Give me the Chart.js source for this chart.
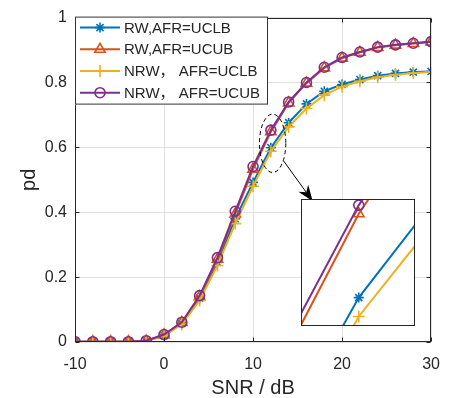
<!DOCTYPE html>
<html>
<head>
<meta charset="utf-8">
<script src="https://cdn.jsdelivr.net/npm/chart.js@4/dist/chart.umd.min.js"></script>
<style>
  html, body { margin: 0; padding: 0; background: #fff; }
  #wrap { position: relative; width: 453px; height: 398px; }
  #inset {
    position: absolute; left: 301px; top: 199px; width: 114px; height: 127px;
    border: 1px solid #262626; box-sizing: border-box; background: #fff;
  }
  #inset canvas { display: block; }
</style>
</head>
<body>
<div id="wrap">
  <canvas id="main" width="453" height="398"></canvas>
  <div id="inset"><canvas id="zoom" width="112" height="125"></canvas></div>
</div>
<script>
// detection probability vs SNR, one value every 2 dB
const snr = [-10, -8, -6, -4, -2, 0, 2, 4, 6, 8, 10, 12, 14, 16, 18, 20, 22, 24, 26, 28, 30];
const rwUclb  = [0.001, 0.001, 0.001, 0.001, 0.003, 0.020, 0.057, 0.135, 0.245, 0.380, 0.492, 0.599, 0.676, 0.734, 0.773, 0.794, 0.809, 0.821, 0.828, 0.832, 0.834];
const rwUcub  = [0.001, 0.001, 0.001, 0.001, 0.003, 0.022, 0.060, 0.140, 0.255, 0.395, 0.533, 0.648, 0.737, 0.798, 0.845, 0.875, 0.893, 0.908, 0.915, 0.920, 0.925];
const nrwUclb = [0.001, 0.001, 0.001, 0.001, 0.003, 0.019, 0.055, 0.128, 0.236, 0.365, 0.480, 0.588, 0.663, 0.720, 0.761, 0.787, 0.804, 0.816, 0.824, 0.829, 0.832];
const nrwUcub = [0.001, 0.001, 0.001, 0.001, 0.004, 0.023, 0.061, 0.143, 0.260, 0.403, 0.541, 0.653, 0.740, 0.800, 0.847, 0.877, 0.894, 0.909, 0.916, 0.921, 0.926];
const seriesNames = ['RW,AFR=UCLB', 'RW,AFR=UCUB', 'NRW\uFF0C AFR=UCLB', 'NRW\uFF0C AFR=UCUB'];
const xTicks = [-10, 0, 10, 20, 30];
const yTicks = [0, 0.2, 0.4, 0.6, 0.8, 1];

// zoomed window shown in the inset
const zoomX = [10.89, 13.08];
const zoomY = [0.583, 0.656];
// dashed ellipse around the zoomed region and the arrow pointing to the inset
const ring = { x: 12.2, y: 0.6125, rx: 1.48, ry: 0.09 };
const arrow = { x0: 13.44, y0: 0.558, x1: 16.7, y1: 0.434 };

const FONT = "'Liberation Sans', Arial, 'Noto Sans CJK SC', sans-serif";
const INK = '#262626';

const styles = [
  { color: '#0072BD', point: 'star', radius: 5 },
  { color: '#D95319', point: 'triangle', radius: 6 },
  { color: '#EDB120', point: 'cross', radius: 6 },
  { color: '#7E2F8E', point: 'circle', radius: 5 },
];
const series = [rwUclb, rwUcub, nrwUclb, nrwUcub];

const makeDatasets = () => series.map((vals, i) => ({
  label: seriesNames[i],
  data: snr.map((x, j) => ({ x: x, y: vals[j] })),
  borderColor: styles[i].color,
  backgroundColor: 'rgba(0,0,0,0)',
  borderWidth: 2,
  pointStyle: styles[i].point,
  pointRadius: styles[i].radius,
  pointBorderWidth: 1.6,
  pointBorderColor: styles[i].color,
  pointBackgroundColor: 'rgba(0,0,0,0)',
  tension: 0,
  order: 3 - i, // last series on top
}));

const drawArrow = (ctx, xa, ya, xb, yb) => {
  const ang = Math.atan2(yb - ya, xb - xa);
  const len = 16, half = 6, notch = 11;
  const bx = xb - notch * Math.cos(ang), by = yb - notch * Math.sin(ang);
  ctx.beginPath();
  ctx.moveTo(xa, ya);
  ctx.lineTo(bx, by);
  ctx.stroke();
  const px = -Math.sin(ang), py = Math.cos(ang);
  const wx = xb - len * Math.cos(ang), wy = yb - len * Math.sin(ang);
  ctx.beginPath();
  ctx.moveTo(xb, yb);
  ctx.lineTo(wx + half * px, wy + half * py);
  ctx.lineTo(bx, by);
  ctx.lineTo(wx - half * px, wy - half * py);
  ctx.closePath();
  ctx.fill();
};

const framePlugin = {
  id: 'frame',
  afterDraw(chart) {
    const { ctx, chartArea: a, scales: { x, y } } = chart;
    const L = Math.round(a.left) + 0.5, R = Math.round(a.right) - 0.5;
    const T = Math.round(a.top) + 0.5, B = Math.round(a.bottom) - 0.5;
    ctx.save();
    ctx.strokeStyle = INK;
    ctx.lineWidth = 1;
    ctx.strokeRect(L, T, R - L, B - T);
    ctx.beginPath();
    xTicks.forEach(v => {
      const px = Math.round(x.getPixelForValue(v)) + 0.5;
      ctx.moveTo(px, B); ctx.lineTo(px, B - 4);
      ctx.moveTo(px, T); ctx.lineTo(px, T + 4);
    });
    yTicks.forEach(v => {
      const py = Math.round(y.getPixelForValue(v)) + 0.5;
      ctx.moveTo(L, py); ctx.lineTo(L + 4, py);
      ctx.moveTo(R, py); ctx.lineTo(R - 4, py);
    });
    ctx.stroke();

    // dashed ellipse + arrow
    ctx.strokeStyle = '#000';
    ctx.fillStyle = '#000';
    ctx.setLineDash([4, 3]);
    ctx.beginPath();
    const cx = x.getPixelForValue(ring.x), cy = y.getPixelForValue(ring.y);
    const rx = Math.abs(x.getPixelForValue(ring.x + ring.rx) - cx);
    const ry = Math.abs(y.getPixelForValue(ring.y + ring.ry) - cy);
    ctx.ellipse(cx, cy, rx, ry, 0, 0, Math.PI * 2);
    ctx.stroke();
    ctx.setLineDash([]);
    drawArrow(ctx, x.getPixelForValue(arrow.x0), y.getPixelForValue(arrow.y0),
      x.getPixelForValue(arrow.x1), y.getPixelForValue(arrow.y1));

    // legend box in the upper left corner
    const lx = a.left, ly = a.top - 1, lw = 193, lh = 88;
    ctx.fillStyle = '#fff';
    ctx.fillRect(lx, ly, lw, lh);
    ctx.strokeStyle = '#333';
    ctx.strokeRect(lx + 0.5, ly + 0.5, lw - 1, lh - 1);
    ctx.font = '15px ' + FONT;
    ctx.textBaseline = 'middle';
    ctx.textAlign = 'left';
    chart.data.datasets.forEach((ds, i) => {
      const iy = ly + 11 + i * 21.7;
      ctx.strokeStyle = ds.borderColor;
      ctx.lineWidth = 2;
      ctx.beginPath();
      ctx.moveTo(lx + 5, iy); ctx.lineTo(lx + 45, iy);
      ctx.stroke();
      ctx.lineWidth = ds.pointBorderWidth;
      ctx.fillStyle = 'rgba(0,0,0,0)';
      Chart.helpers.drawPoint(ctx, {
        pointStyle: ds.pointStyle, radius: ds.pointRadius, rotation: 0, borderWidth: ds.pointBorderWidth
      }, lx + 25, iy);
      ctx.fillStyle = INK;
      ctx.fillText(ds.label, lx + 49, iy + 1);
    });
    ctx.restore();
  }
};

new Chart(document.getElementById('main'), {
  type: 'line',
  data: { datasets: makeDatasets() },
  options: {
    responsive: false,
    animation: false,
    layout: { autoPadding: false, padding: { top: 15, right: 18, left: 0, bottom: 0 } },
    plugins: { legend: { display: false }, tooltip: { enabled: false } },
    scales: {
      x: {
        type: 'linear',
        min: -10,
        max: 30,
        afterBuildTicks: s => { s.ticks = xTicks.map(v => ({ value: v })); },
        afterFit: s => { s.height = 56; },
        grid: { color: '#e2e2e2', drawTicks: false },
        border: { display: false },
        ticks: { padding: 13, color: INK, font: { family: FONT, size: 16 } },
        title: { display: true, text: 'SNR / dB', color: INK, padding: 0, font: { family: FONT, size: 20, lineHeight: 1 } }
      },
      y: {
        min: 0,
        max: 1,
        afterBuildTicks: s => { s.ticks = yTicks.map(v => ({ value: v })); },
        afterFit: s => { s.width = 75; },
        grid: { color: '#e2e2e2', drawTicks: false },
        border: { display: false },
        ticks: { padding: 8, color: INK, font: { family: FONT, size: 16 }, callback: v => String(+v.toFixed(1)) },
        title: { display: true, text: 'pd', color: INK, padding: { top: 17 }, font: { family: FONT, size: 20 } }
      }
    }
  },
  plugins: [framePlugin]
});

// magnified view around 12 dB
new Chart(document.getElementById('zoom'), {
  type: 'line',
  data: { datasets: makeDatasets() },
  options: {
    responsive: false,
    animation: false,
    layout: { autoPadding: false, padding: 0 },
    plugins: { legend: { display: false }, tooltip: { enabled: false } },
    scales: {
      x: { type: 'linear', display: false, min: zoomX[0], max: zoomX[1] },
      y: { display: false, min: zoomY[0], max: zoomY[1] }
    }
  }
});
</script>
</body>
</html>
